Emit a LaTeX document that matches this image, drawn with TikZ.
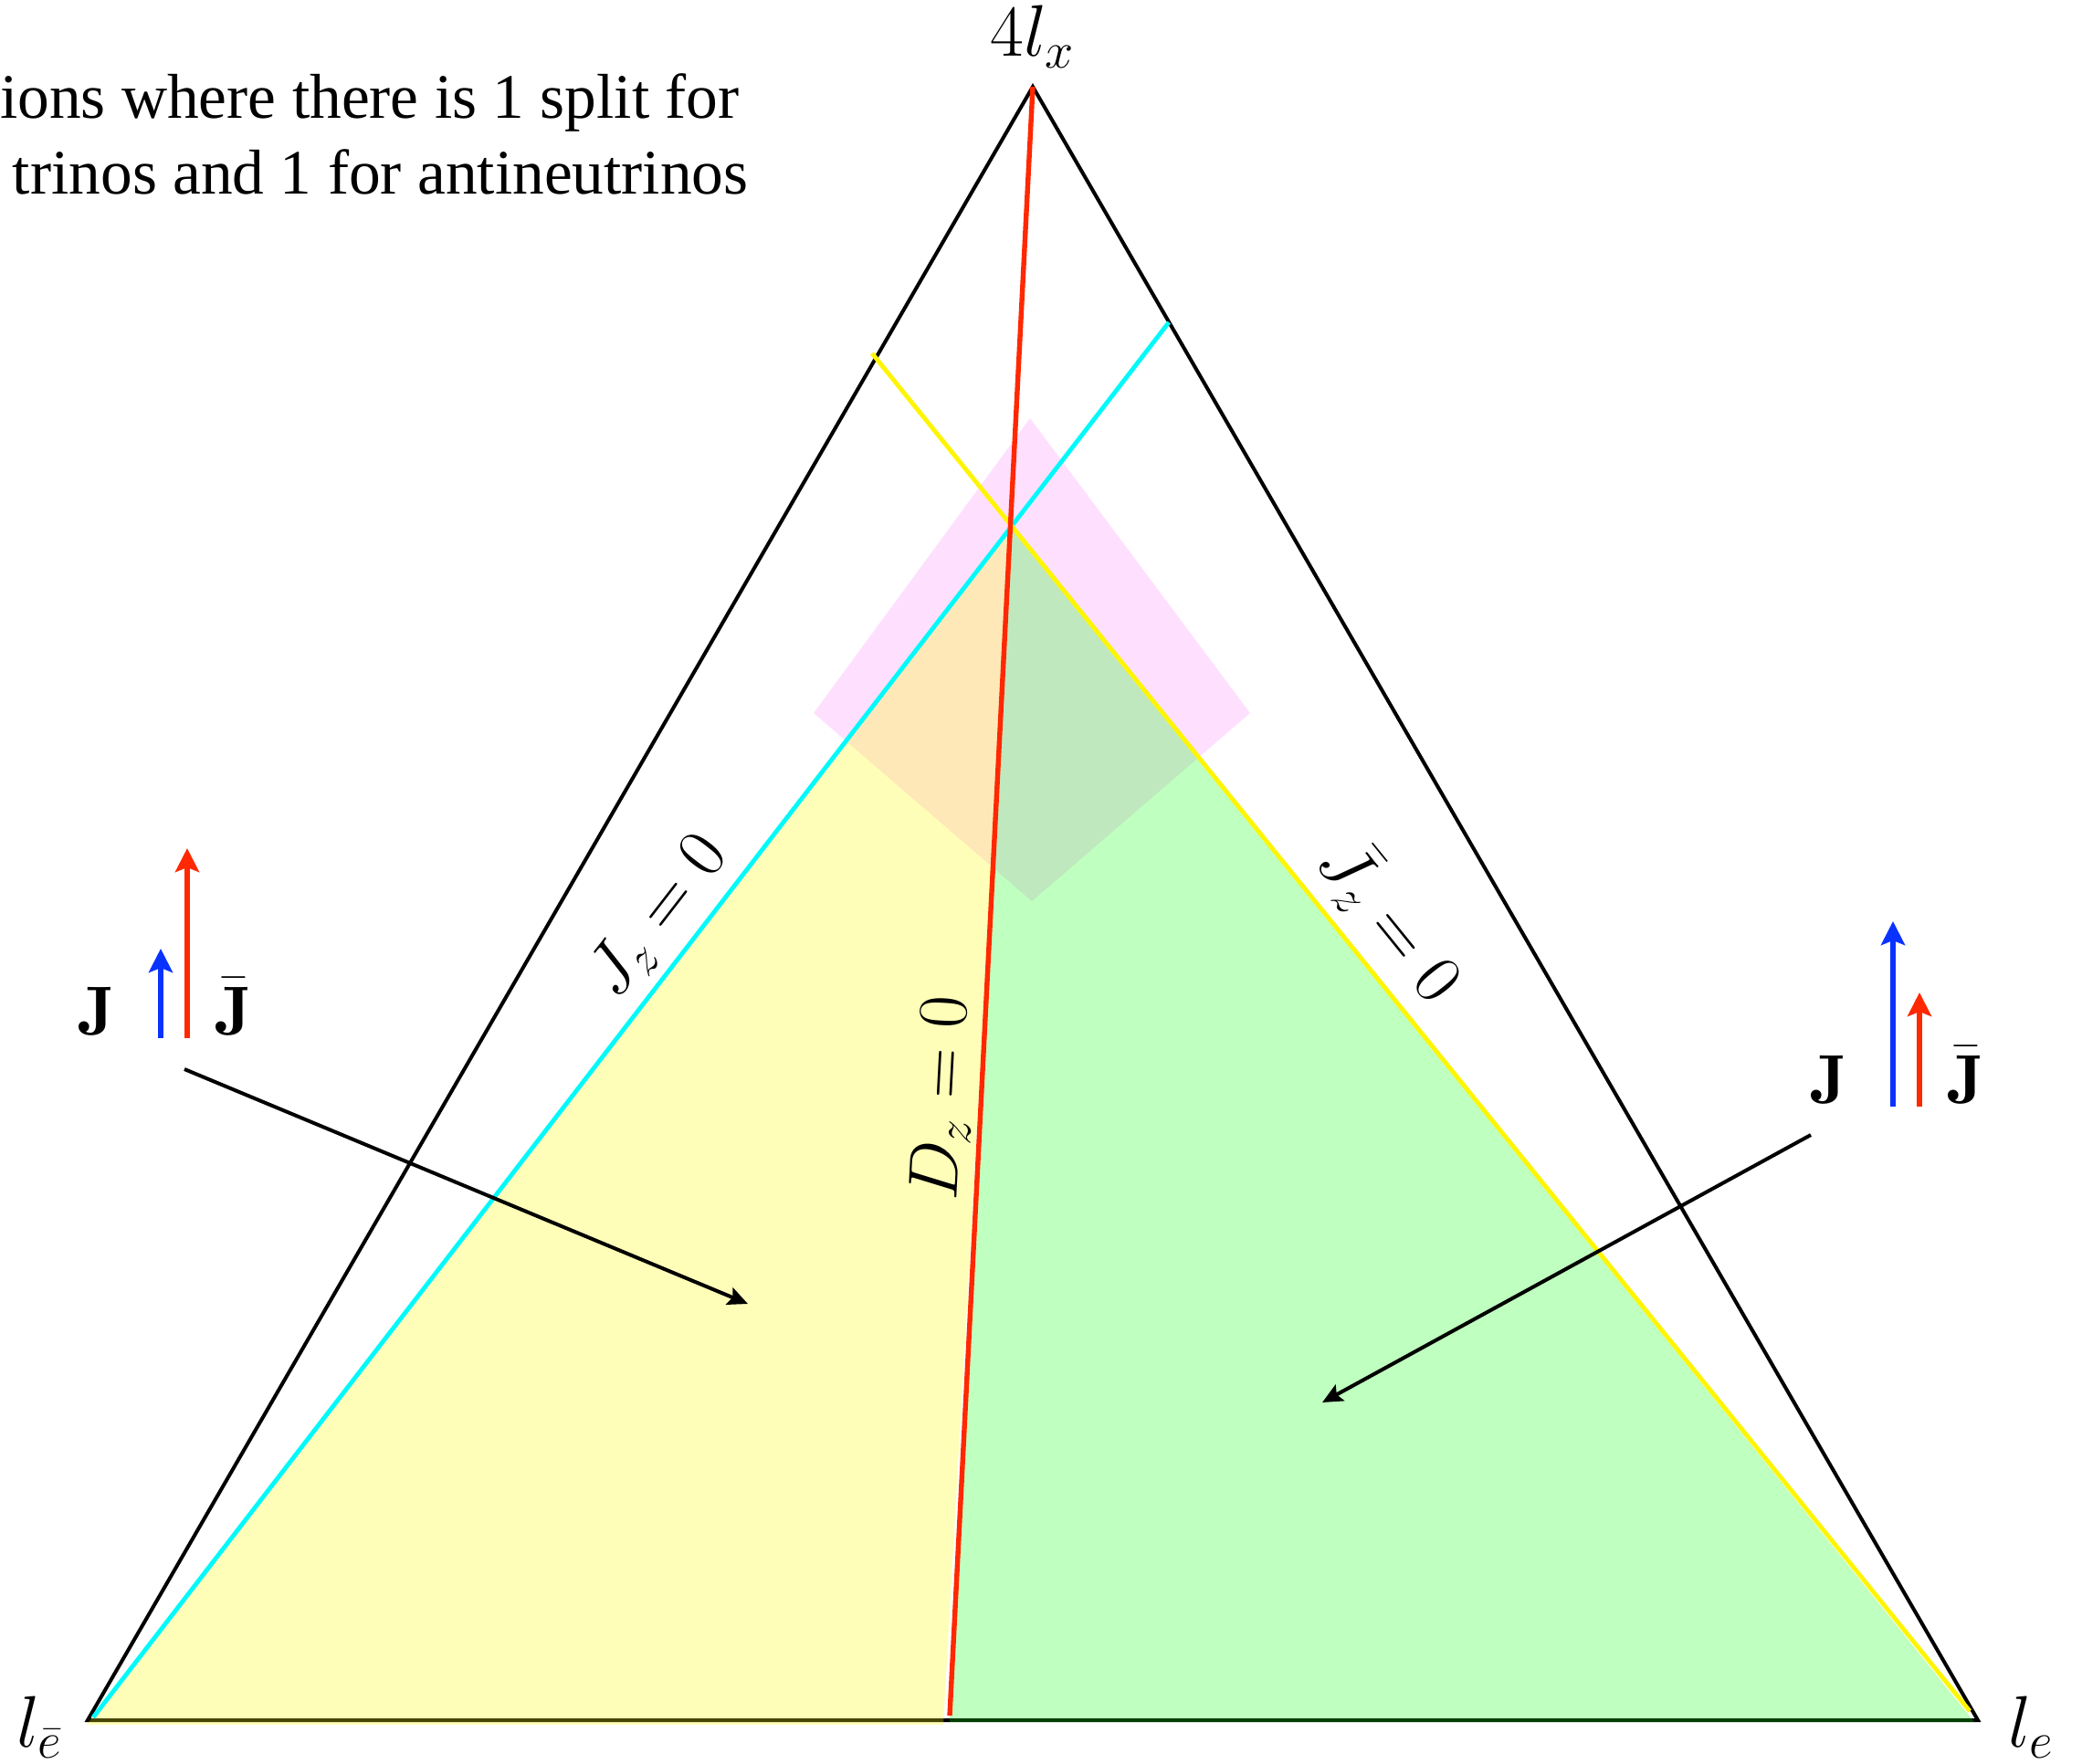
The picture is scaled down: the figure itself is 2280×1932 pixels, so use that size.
\documentclass[tikz,border=0pt]{standalone}
\usepackage{fix-cm}
\usepackage{fontspec}
\newfontfamily\capfont{Liberation Serif}
\usetikzlibrary{arrows.meta}
\definecolor{lred}{RGB}{255,40,0}
\definecolor{lblue}{RGB}{10,50,255}
\definecolor{lcyan}{RGB}{0,250,250}
\definecolor{lyellow}{RGB}{255,245,0}
\definecolor{fillY}{RGB}{255,252,0}
\definecolor{fillG}{RGB}{0,255,0}
\definecolor{fillP}{RGB}{250,0,250}
\tikzset{
  tri/.style={line width=2pt, black},
  regionY/.style={fill=fillY, fill opacity=0.28},
  regionG/.style={fill=fillG, fill opacity=0.25},
  regionP/.style={fill=fillP, fill opacity=0.12},
  splitline/.style={line width=2.4pt},
  vlabel/.style={inner sep=0pt, font=\fontsize{40}{46}\selectfont},
  rlabel/.style={inner sep=0pt, font=\fontsize{38.5}{44}\selectfont},
  jlabel/.style={inner sep=0pt, font=\fontsize{38}{44}\selectfont},
  vec/.style={line width=2.7pt, -{Stealth[length=13pt,width=13pt,inset=2.5pt]}},
  pointer/.style={line width=2pt, black, -{Stealth[length=11pt,width=10pt,inset=2pt]}},
  captext/.style={inner sep=0pt, font=\capfont\fontsize{34.7}{41.5}\selectfont}
}
\begin{document}
\begin{tikzpicture}[x=0.5pt,y=-0.5pt]
\useasboundingbox (0,0) rectangle (2280,1932);
% vertices and line ends
\coordinate (L) at (96,1884);
\coordinate (R) at (2166,1884);
\coordinate (T) at (1131,95);
\coordinate (I) at (1107,575);
\coordinate (Dbot) at (1040,1879);
\coordinate (Cbot) at (102,1881);
\coordinate (Ctop) at (1280,353);
\coordinate (Ytop) at (955,387);
\coordinate (Ybot) at (2157,1874);
% triangle
\draw[tri] (L) -- (R) -- (T) -- cycle;
% regions
\fill[regionP] (1128,458) -- (1369,781) -- (1130,987) -- (891,781) -- cycle;
\fill[regionY] (95,1889) -- (I) -- (1033,1889) -- cycle;
\fill[regionG] (I) -- (2162,1886) -- (1040,1886) -- cycle;
% split lines
\draw[splitline, lcyan] (Cbot) -- (Ctop);
\draw[splitline, lyellow] (Ytop) -- (Ybot);
\draw[splitline, lred, line width=2.7pt] (T) -- (Dbot);
% vertex labels
\node[vlabel, anchor=base] (lx) at (1131,62) {$4l_x$};
\node[vlabel, anchor=base] (le) at (2224,1913) {$l_e$};
\node[vlabel, anchor=base] (lebar) at (43,1913) {$l_{\bar e}$};
% line labels
\node[rlabel, rotate=52.3] (jz) at (721,1004) {$J_z = 0$};
\node[rlabel, rotate=-51] (jbz) at (1523,1008) {$\bar{J}_z = 0$};
\node[rlabel, rotate=87] (dz) at (1033,1203) {$D_z = 0$};
% caption text (cut at the left edge)
\node[captext, anchor=base east] (cap1) at (810,130) {ions where there is 1 split for};
\node[captext, anchor=base east] (cap2) at (820,213) {trinos and 1 for antineutrinos};
% left vector group
\node[jlabel, anchor=base] (JL) at (106,1133) {$\mathbf{J}$};
\node[jlabel, anchor=base] (JbL) at (256,1133) {$\bar{\mathbf{J}}$};
\coordinate (bL0) at (176,1137); \coordinate (bL1) at (176,1039);
\coordinate (rL0) at (205,1137); \coordinate (rL1) at (205,929);
\draw[vec, lblue] (bL0) -- (bL1);
\draw[vec, lred] (rL0) -- (rL1);
% right vector group
\node[jlabel, anchor=base] (JR) at (2003,1208) {$\mathbf{J}$};
\node[jlabel, anchor=base] (JbR) at (2153,1208) {$\bar{\mathbf{J}}$};
\coordinate (bR0) at (2073,1212); \coordinate (bR1) at (2073,1009);
\coordinate (rR0) at (2102,1212); \coordinate (rR1) at (2102,1087);
\draw[vec, lblue] (bR0) -- (bR1);
\draw[vec, lred] (rR0) -- (rR1);
% pointers
\coordinate (pL0) at (202,1171); \coordinate (pL1) at (819,1428);
\coordinate (pR0) at (1983,1243); \coordinate (pR1) at (1448,1536);
\draw[pointer] (pL0) -- (pL1);
\draw[pointer] (pR0) -- (pR1);
\end{tikzpicture}
\end{document}
